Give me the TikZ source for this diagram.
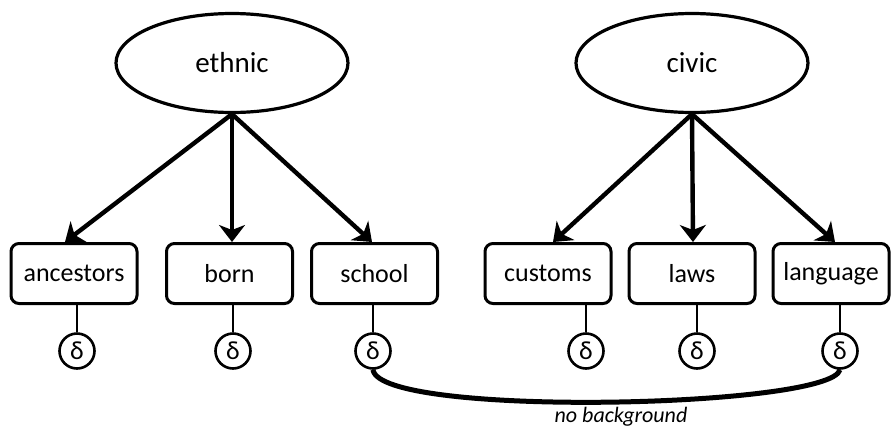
\documentclass[tikz,border=0pt]{standalone}
\usepackage{fontspec}
\setmainfont{Carlito}
\usetikzlibrary{arrows.meta,shapes.geometric}
\begin{document}
\begin{tikzpicture}[x=1pt,y=-1pt,
  latent/.style={ellipse,draw,line width=3.2pt,minimum width=232pt,minimum height=99pt,font=\fontsize{29}{34}\selectfont,inner sep=0pt},
  indicator/.style={draw,rounded corners=8pt,line width=3pt,minimum width=126pt,minimum height=60pt,font=\fontsize{26}{30}\selectfont,inner sep=0pt},
  errterm/.style={circle,draw,line width=2.6pt,minimum size=35pt,inner sep=0pt,font=\fontsize{26}{30}\selectfont},
  load/.style={line width=4.4pt,-{Stealth[length=17pt,width=26pt,inset=5pt]}},
  errlink/.style={line width=2pt},
  covar/.style={line width=5pt}]
\useasboundingbox (0,0) rectangle (892,429);

% latent factors
\node[latent] (ethnic) at (232,63) {ethnic};
\node[latent] (civic) at (692,63) {civic};

% observed indicators
\node[indicator] (anc) at (74,273.5) {ancestors};
\node[indicator] (born) at (229.5,273.5) {born};
\node[indicator] (school) at (374.5,273.5) {school};
\node[indicator] (cust) at (548,273.5) {customs};
\node[indicator] (laws) at (692,273.5) {laws};
\node[indicator,minimum width=116pt] (lang) at (831,273.5) {language};

% error terms
\node[errterm] (d1) at (77,351) {δ};
\node[errterm] (d2) at (233,351) {δ};
\node[errterm] (d3) at (373,351) {δ};
\node[errterm] (d4) at (586,351) {δ};
\node[errterm] (d5) at (697,351) {δ};
\node[errterm] (d6) at (840,351) {δ};

% loadings
\draw[load] (ethnic.south) -- ([xshift=-9pt]anc.north);
\draw[load] (ethnic.south) -- ([xshift=2.5pt]born.north);
\draw[load] (ethnic.south) -- ([xshift=-2.5pt]school.north);
\draw[load] (civic.south) -- ([xshift=5pt]cust.north);
\draw[load] (civic.south) -- ([xshift=1pt]laws.north);
\draw[load] (civic.south) -- ([xshift=4pt]lang.north);

% error links
\foreach \d/\b in {d1/anc,d2/born,d3/school,d4/cust,d5/laws,d6/lang}
  \draw[errlink] (\d.north) -- (\d.north |- \b.south);

% correlated errors
\draw[covar] (d3.south) .. controls (380,418) and (830,408) .. (d6.south);
\node[font=\fontsize{22}{26}\selectfont\itshape,inner sep=0pt,anchor=base] (nobg) at (621,422) {no background};
\end{tikzpicture}
\end{document}
